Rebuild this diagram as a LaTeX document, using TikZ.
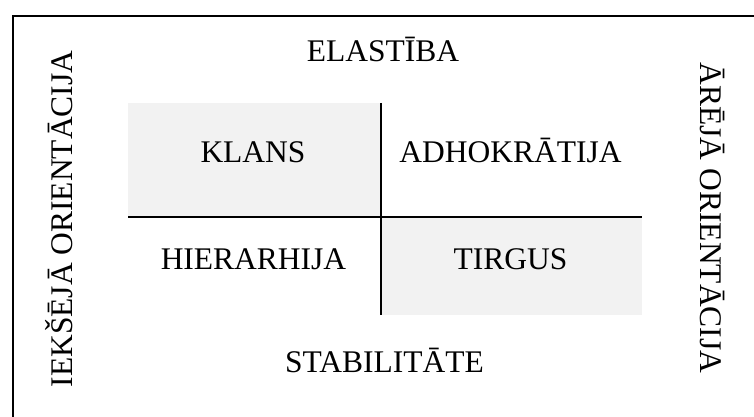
\documentclass[tikz,border=0pt]{standalone}
\usepackage{fontspec}
\setmainfont{Liberation Serif}
\definecolor{cellgray}{RGB}{242,242,242}
\begin{document}
\begin{tikzpicture}[x=1pt,y=-1pt,
    lbl/.style={inner sep=0pt,anchor=base,font=\fontsize{31.5}{36}\selectfont},
    rule/.style={line width=2pt,black}]
  \useasboundingbox (0,0) rectangle (754,417);
  \clip (0,0) rectangle (754,417);
  % outer frame (only top and left edges fall inside the page)
  \draw[rule] (13,440) -- (13,15.7) -- (780,15.7);
  % corners of the 2x2 grid
  \coordinate (tl) at (128,103);
  \coordinate (c)  at (381,216.7);
  \coordinate (br) at (642,315);
  % shaded cells
  \fill[cellgray] (tl) rectangle (c);
  \fill[cellgray] (c) rectangle (br);
  % axes of the grid
  \coordinate (vtop) at (381,103);
  \coordinate (vbot) at (381,315);
  \coordinate (hleft) at (128,216.7);
  \coordinate (hright) at (642,216.7);
  \draw[rule] (vtop) -- (vbot);
  \draw[rule] (hleft) -- (hright);
  % labels
  \node[lbl] (top)    at (383,61.7)  {ELASTĪBA};
  \node[lbl] (bottom) at (384.5,372) {STABILITĀTE};
  \node[lbl] (klans)  at (253,162.7) {KLANS};
  \node[lbl] (adho)   at (510.5,162.7) {ADHOKRĀTIJA};
  \node[lbl] (hier)   at (253.5,269.7) {HIERARHIJA};
  \node[lbl] (tirgus) at (510.5,269.7) {TIRGUS};
  \node[lbl,rotate=90]  (left)  at (72,219)  {IEKŠĒJĀ ORIENTĀCIJA};
  \node[lbl,rotate=-90] (right) at (700,218) {ĀRĒJĀ ORIENTĀCIJA};
\end{tikzpicture}
\end{document}
